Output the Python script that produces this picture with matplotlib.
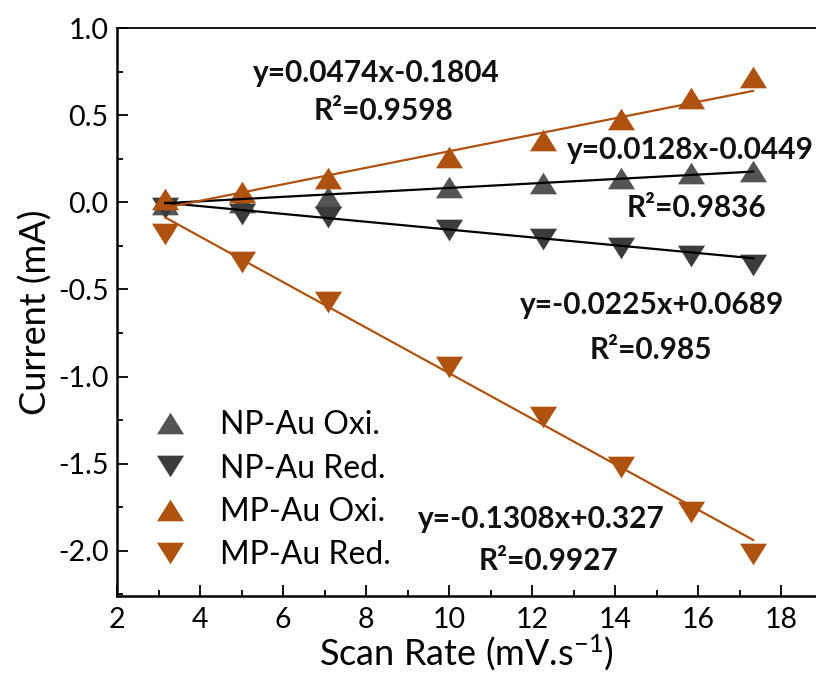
import numpy as np
import matplotlib
matplotlib.use("Agg")
from matplotlib import pyplot as plt

plt.rcParams['font.family'] = ['Lato', 'DejaVu Sans']
plt.rcParams['mathtext.default'] = 'regular'

# scan rate axis values (sqrt of scan rate)
scan_rate = [3.16, 5.0, 7.07, 10.0, 12.25, 14.14, 15.81, 17.32]

np_oxi = [-0.01, 0.00, 0.03, 0.09, 0.11, 0.14, 0.17, 0.18]
np_red = [-0.035, -0.065, -0.085, -0.16, -0.21, -0.26, -0.31, -0.36]
mp_oxi = [0.02, 0.06, 0.14, 0.26, 0.36, 0.48, 0.60, 0.72]
mp_red = [-0.18, -0.34, -0.57, -0.945, -1.23, -1.52, -1.78, -2.02]

# linear fits (slope, intercept) and R^2 labels
fits = {
    "np_oxi": (0.0128, -0.0449, "0.9836"),
    "np_red": (-0.0225, 0.0689, "0.985"),
    "mp_oxi": (0.0474, -0.1804, "0.9598"),
    "mp_red": (-0.1308, 0.327, "0.9927"),
}

orange = "#B0520F"
gray_up = "#545454"
gray_dn = "#3c3c3c"

up = [(-1, -0.8), (1, -0.8), (0, 0.8)]
dn = [(-1, 0.8), (1, 0.8), (0, -0.8)]

fig = plt.figure(figsize=(8.16, 6.84), dpi=100)
ax = fig.add_axes([0.1434, 0.1287, 0.857, 0.830])

x = np.array(scan_rate)
xs = np.array([x[0], x[-1]])

series = [
    ("NP-Au Oxi.", np_oxi, up, gray_up, "np_oxi", "black"),
    ("NP-Au Red.", np_red, dn, gray_dn, "np_red", "black"),
    ("MP-Au Oxi.", mp_oxi, up, orange, "mp_oxi", orange),
    ("MP-Au Red.", mp_red, dn, orange, "mp_red", orange),
]

for label, vals, mk, col, key, lcol in series:
    ax.plot(x, vals, linestyle="none", marker=mk, markersize=19.5,
            color=col, markeredgewidth=0, label=label, zorder=3)
for label, vals, mk, col, key, lcol in series:
    m, b, r2 = fits[key]
    ax.plot(xs, m * xs + b, color=lcol, lw=1.6, zorder=4)

tkw = dict(fontsize=21.5, fontweight="bold", ha="center", va="center", color="#111111")
ax.text(8.24, 0.745, "y=0.0474x-0.1804", **tkw)
ax.text(8.41, 0.527, "R²=0.9598", **tkw)
ax.text(15.81, 0.30, "y=0.0128x-0.0449", **tkw)
ax.text(15.95, -0.03, "R²=0.9836", **tkw)
ax.text(14.89, -0.59, "y=-0.0225x+0.0689", **tkw)
ax.text(14.85, -0.85, "R²=0.985", **tkw)
ax.text(12.22, -1.82, "y=-0.1308x+0.327", **tkw)
ax.text(12.39, -2.06, "R²=0.9927", **tkw)

ax.set_xlim(2, 18.84)
ax.set_ylim(-2.26, 1.0)
ax.set_xticks([2, 4, 6, 8, 10, 12, 14, 16, 18])
ax.set_xticks(np.arange(3, 19, 2), minor=True)
ax.set_yticks([-2.0, -1.5, -1.0, -0.5, 0.0, 0.5, 1.0])
ax.set_yticks(np.arange(-2.25, 1.0, 0.5), minor=True)
ax.set_yticklabels(["-2.0", "-1.5", "-1.0", "-0.5", "0.0", "0.5", "1.0"])

ax.tick_params(which="both", direction="in", labelsize=20.5, width=1.3)
ax.tick_params(which="major", length=8)
ax.tick_params(which="minor", length=4.5)
ax.tick_params(axis="x", pad=8)
ax.tick_params(axis="y", pad=6)

ax.spines["right"].set_visible(False)
for s in ["left", "bottom"]:
    ax.spines[s].set_linewidth(1.8)
ax.spines["top"].set_linewidth(1.3)

ax.set_xlabel("Scan Rate (mV.s$^{-1}$)", fontsize=26, labelpad=0)
ax.set_ylabel("Current (mA)", fontsize=26, labelpad=4)

ax.legend(loc="lower left", bbox_to_anchor=(0.039, 0.045), frameon=False,
          fontsize=23, handlelength=1.6, handletextpad=0.78,
          labelspacing=0.42, borderaxespad=0, borderpad=0)

fig.savefig("out.png", dpi=100)
